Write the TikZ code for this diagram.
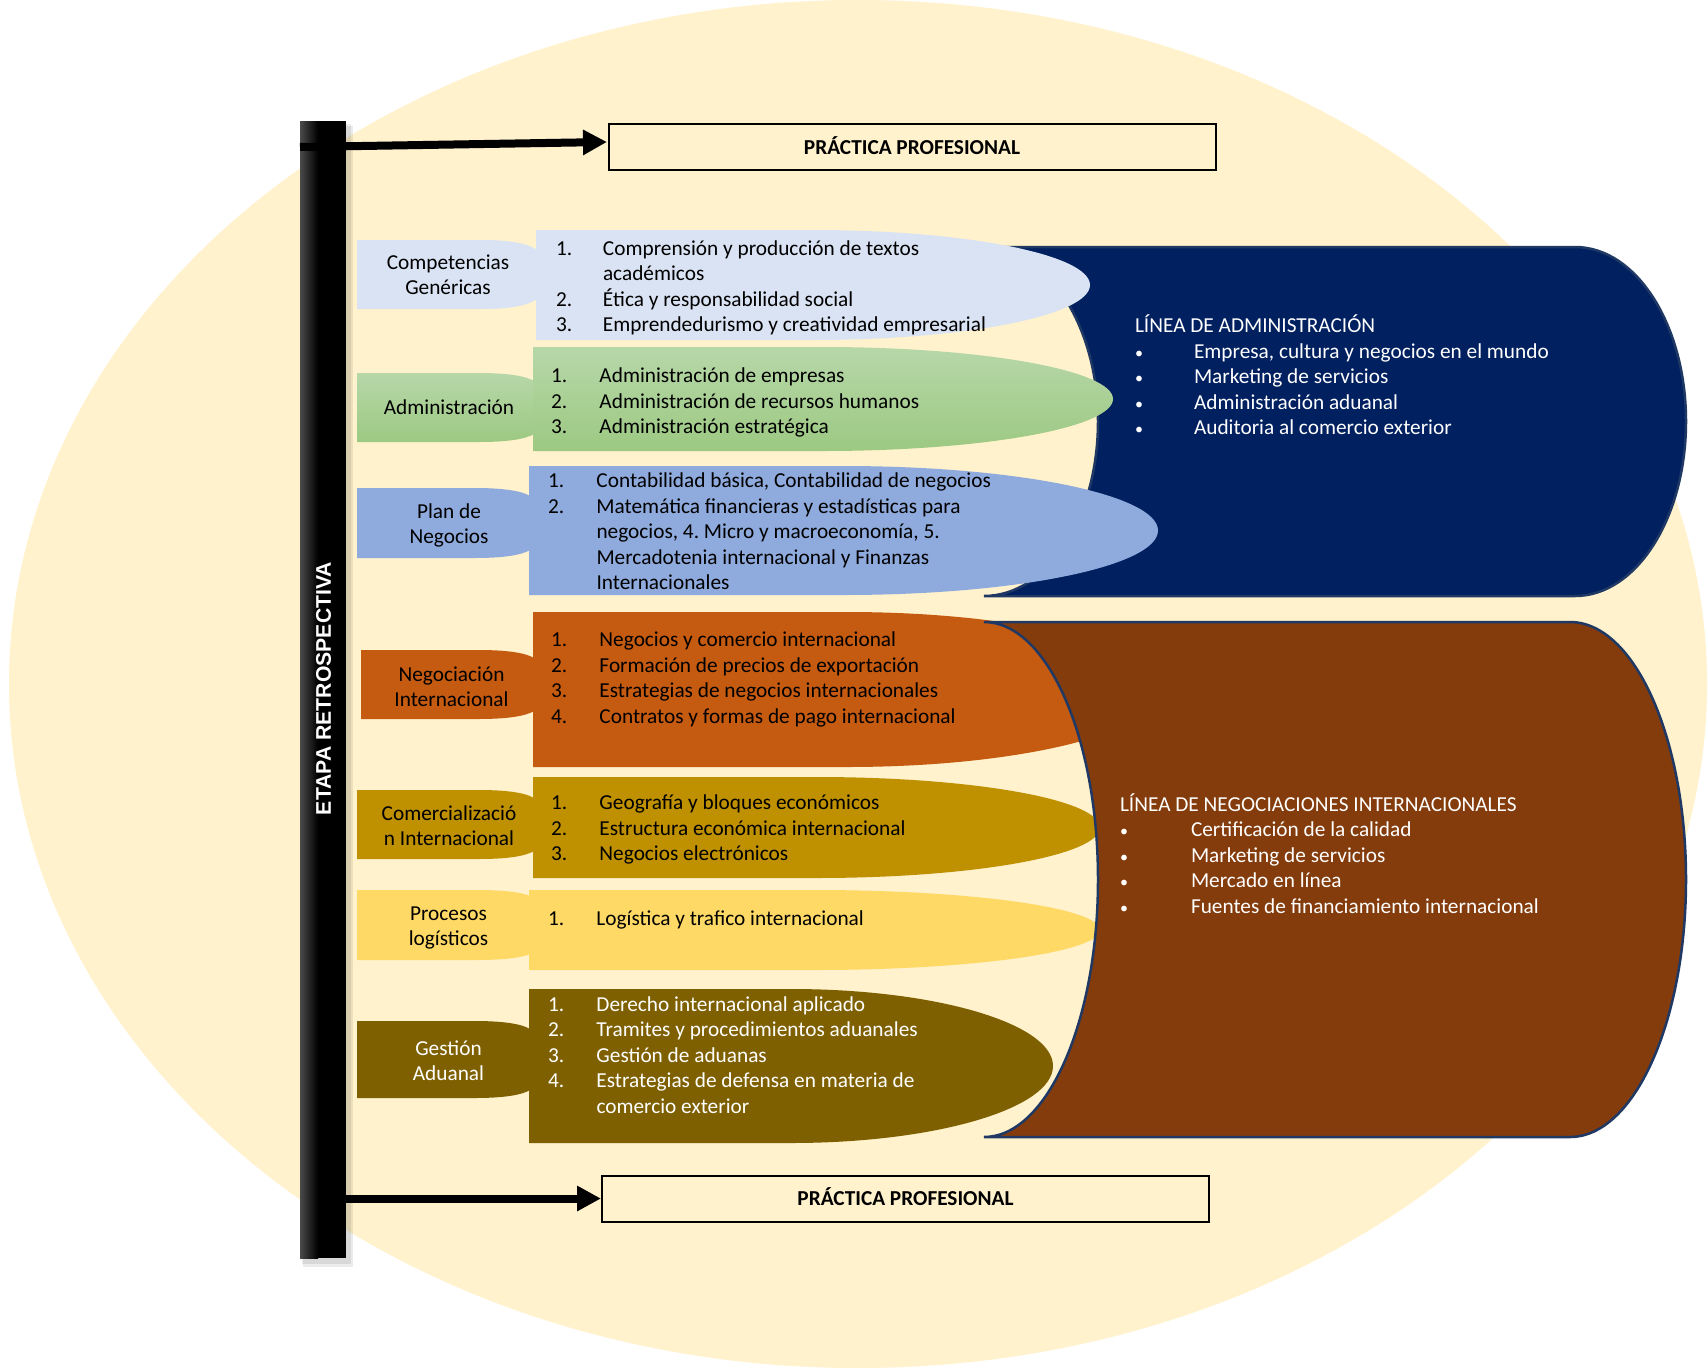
\documentclass[tikz,border=0pt]{standalone}
\usepackage{fontspec}
\setmainfont{Carlito}
\newfontfamily\arialfont{Liberation Sans}
\usetikzlibrary{arrows.meta}
\frenchspacing
\definecolor{bgc}{HTML}{FFF2CC}
\definecolor{navyc}{HTML}{002060}
\definecolor{brownc}{HTML}{843C0C}
\definecolor{edgec}{HTML}{1F3864}
\definecolor{c1}{HTML}{DAE3F3}
\definecolor{gtop}{HTML}{B7D7A9}
\definecolor{gbot}{HTML}{9CC982}
\definecolor{c3}{HTML}{8FAADC}
\definecolor{c4}{HTML}{C55A11}
\definecolor{c5}{HTML}{BF9000}
\definecolor{c6}{HTML}{FFD966}
\definecolor{c7}{HTML}{7F6000}
\definecolor{barg}{HTML}{4A4A4A}
\newcommand\smbul{{\fontsize{16}{16}\selectfont •}}
% list block (rectangle + half ellipse on the right)
\newcommand\dshape[5]{%
 \pgfmathsetmacro\dsM{(#1+#3)/2}%
 \pgfmathsetmacro\dsR{(#3-#1)/2}%
 \pgfmathsetmacro\dsC{(#2+#4)/2}%
 \pgfmathsetmacro\dsH{(#4-#2)/2}%
 \pgfmathsetmacro\dsA{\dsM+0.5523*\dsR}%
 \pgfmathsetmacro\dsB{\dsC-0.5523*\dsH}%
 \pgfmathsetmacro\dsD{\dsC+0.5523*\dsH}%
 \path[#5] (#1,#2) -- (\dsM,#2) .. controls (\dsA,#2) and (#3,\dsB) .. (#3,\dsC)
   .. controls (#3,\dsD) and (\dsA,#4) .. (\dsM,#4) -- (#1,#4) -- cycle;}
% label block (rectangle with a narrowing neck on the right)
\newcommand\lshape[6]{%
 \pgfmathsetmacro\lsP{#3-55}\pgfmathsetmacro\lsQ{#3-25}\pgfmathsetmacro\lsS{#3-8}%
 \pgfmathsetmacro\lsT{#2+#5}\pgfmathsetmacro\lsU{#2+0.4*#5}%
 \pgfmathsetmacro\lsV{#4-#5}\pgfmathsetmacro\lsW{#4-0.4*#5}%
 \path[#6] (#1,#2) -- (\lsP,#2) .. controls (\lsQ,#2) and (\lsS,\lsU) .. (#3,\lsT)
   -- (#3,\lsV) .. controls (\lsS,\lsW) and (\lsQ,#4) .. (\lsP,#4) -- (#1,#4) -- cycle;}
\begin{document}
\begin{tikzpicture}[x=1pt,y=-1pt,
  txt/.style={inner sep=0pt, outer sep=0pt, font=\fontsize{21.3}{25.5}\selectfont, anchor=base west},
  lab/.style={inner sep=0pt, outer sep=0pt, font=\fontsize{21.3}{25}\selectfont, anchor=base},
  pbox/.style={draw=black, line width=2pt, minimum width=607pt, minimum height=46pt, inner sep=0pt,
    text height=14pt, text depth=0pt, font=\fontsize{21.3}{25}\selectfont\bfseries},
  arr/.style={line width=8pt, -{Triangle[length=24pt,width=24pt]}},
  cyl/.style={draw=edgec, line width=2.5pt}]
\useasboundingbox (0,0) rectangle (1708,1368);
\fill[white] (0,0) rectangle (1708,1368);
\fill[bgc] (858,684) ellipse [x radius=849, y radius=684];
% bar
\fill[black,opacity=0.08] (302,124) rectangle (351,1264);
\fill[black,opacity=0.08] (303,126) rectangle (353,1267);
\fill[black] (300,121) rectangle (346,1258);
\shade[left color=barg, right color=black] (300,121) rectangle (318,1258);
\node[inner sep=0pt, minimum width=46pt, minimum height=1137pt] (bar) at (323,689.5) {};
\node[rotate=90, text=white, inner sep=0pt, font={\arialfont\bfseries\fontsize{21.2}{25}\selectfont}] (etapa) at (323.5,688.5) {ETAPA RETROSPECTIVA};
% boxes and arrows
\node[pbox] (topbox) at (912,147) {PRÁCTICA PROFESIONAL};
\node[pbox] (botbox) at (905.5,1198.5) {PRÁCTICA PROFESIONAL};
\coordinate (a1s) at (300,147);
\coordinate (a1e) at (607,142);
\draw[arr] (a1s) -- (a1e);
\draw[arr] (bar.east |- botbox.west) -- (botbox.west);
% navy shape
\path[fill=navyc, cyl] (984,247) -- (1575,247) .. controls (1636.3,247) and (1686,325.1) .. (1686,421.5)
  .. controls (1686,517.9) and (1636.3,596) .. (1575,596) -- (984,596)
  .. controls (1047,596) and (1098,517.9) .. (1098,421.5) .. controls (1098,325.1) and (1047,247) .. (984,247) -- cycle;
\node[txt, text=white] (nav) at (1135,332.5) {\begin{tabular}[t]{@{}p{59pt}@{}l@{}}\multicolumn{2}{@{}l@{}}{LÍNEA DE ADMINISTRACIÓN}\\
 \smbul & Empresa, cultura y negocios en el mundo\\ \smbul & Marketing de servicios\\ \smbul & Administración aduanal\\ \smbul & Auditoria al comercio exterior\end{tabular}};
% block 1
\lshape{357}{240}{537}{309}{10}{fill=c1}
\dshape{536}{230}{1090}{340}{fill=c1}
\node[lab] (l1) at (448,269) {\begin{tabular}[t]{@{}c@{}}Competencias\\Genéricas\end{tabular}};
\node[txt] (t1) at (556,255) {\begin{tabular}[t]{@{}p{47pt}@{}l@{}}1. & Comprensión y producción de textos\\ & académicos\\ 2. & Ética y responsabilidad social\\ 3. & Emprendedurismo y creatividad empresarial\end{tabular}};
% block 2
\lshape{357}{373}{534}{442}{8}{top color=gtop, bottom color=gbot}
\dshape{533}{347}{1113}{451}{top color=gtop, bottom color=gbot}
\node[lab] (l2) at (449,414) {Administración};
\node[txt] (t2) at (551,382.5) {\begin{tabular}[t]{@{}p{48.5pt}@{}l@{}}1. & Administración de empresas\\ 2. & Administración de recursos humanos\\ 3. & Administración estratégica\end{tabular}};
% block 3
\lshape{357}{488}{530}{558}{8}{fill=c3}
\dshape{529}{466}{1158}{595}{fill=c3}
\node[lab] (l3) at (449,518.5) {\begin{tabular}[t]{@{}c@{}}Plan de\\Negocios\end{tabular}};
\node[txt] (t3) at (548,487.5) {\begin{tabular}[t]{@{}p{48.5pt}@{}l@{}}1. & Contabilidad básica, Contabilidad de negocios\\ 2. & Matemática financieras y estadísticas para\\ & negocios, 4. Micro y macroeconomía, 5.\\ & Mercadotenia internacional y Finanzas\\ & Internacionales\end{tabular}};
% block 4
\lshape{361}{650}{534}{719}{8}{fill=c4}
\dshape{533}{612}{1161}{767}{fill=c4}
\node[lab] (l4) at (451.5,681) {\begin{tabular}[t]{@{}c@{}}Negociación\\Internacional\end{tabular}};
\node[txt] (t4) at (551,646.5) {\begin{tabular}[t]{@{}p{48.5pt}@{}l@{}}1. & Negocios y comercio internacional\\ 2. & Formación de precios de exportación\\ 3. & Estrategias de negocios internacionales\\ 4. & Contratos y formas de pago internacional\end{tabular}};
% block 5
\lshape{357}{790}{534}{859}{8}{fill=c5}
\dshape{533}{777}{1100}{878}{fill=c5}
\node[lab] (l5) at (449,820) {\begin{tabular}[t]{@{}c@{}}Comercializació\\n Internacional\end{tabular}};
\node[txt] (t5) at (551,809.5) {\begin{tabular}[t]{@{}p{48.5pt}@{}l@{}}1. & Geografía y bloques económicos\\ 2. & Estructura económica internacional\\ 3. & Negocios electrónicos\end{tabular}};
% block 6
\lshape{357}{890}{530}{960}{6}{fill=c6}
\dshape{529}{890}{1100}{970}{fill=c6}
\node[lab] (l6) at (448.5,920) {\begin{tabular}[t]{@{}c@{}}Procesos\\logísticos\end{tabular}};
\node[txt] (t6) at (548,925) {\begin{tabular}[t]{@{}p{48.5pt}@{}l@{}}1. & Logística y trafico internacional\end{tabular}};
% block 7
\lshape{357}{1021}{530}{1098}{8}{fill=c7}
\dshape{529}{989}{1053}{1143}{fill=c7}
\node[lab, text=white] (l7) at (448.5,1055) {\begin{tabular}[t]{@{}c@{}}Gestión\\Aduanal\end{tabular}};
\node[txt, text=white] (t7) at (548,1011) {\begin{tabular}[t]{@{}p{48.5pt}@{}l@{}}1. & Derecho internacional aplicado\\ 2. & Tramites y procedimientos aduanales\\ 3. & Gestión de aduanas\\ 4. & Estrategias de defensa en materia de\\ & comercio exterior\end{tabular}};
% brown shape
\path[fill=brownc, cyl] (984,622) -- (1570,622) .. controls (1634.1,622) and (1686,737.3) .. (1686,879.5)
  .. controls (1686,1021.7) and (1634.1,1137) .. (1570,1137) -- (984,1137)
  .. controls (1047,1137) and (1098,1021.7) .. (1098,879.5) .. controls (1098,737.3) and (1047,622) .. (984,622) -- cycle;
\node[txt, text=white] (brw) at (1120,811) {\begin{tabular}[t]{@{}p{71pt}@{}l@{}}\multicolumn{2}{@{}l@{}}{LÍNEA DE NEGOCIACIONES INTERNACIONALES}\\
 \smbul & Certificación de la calidad\\ \smbul & Marketing de servicios\\ \smbul & Mercado en línea\\ \smbul & Fuentes de financiamiento internacional\end{tabular}};
\end{tikzpicture}
\end{document}
